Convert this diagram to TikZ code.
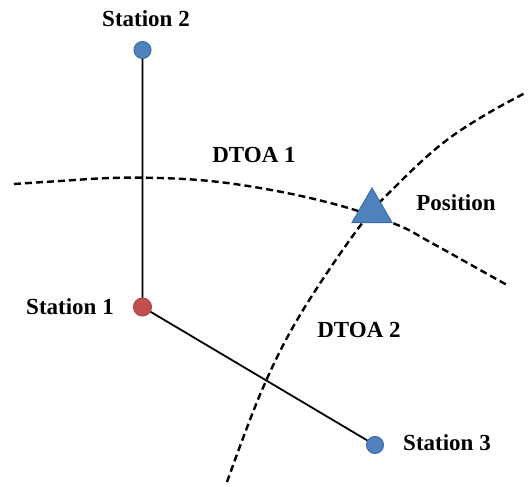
\documentclass[tikz,border=0pt]{standalone}
\usepackage{fontspec}
\setmainfont{Liberation Serif}
\usetikzlibrary{shapes.geometric}
\definecolor{stblue}{HTML}{4F81BD}
\definecolor{stblueb}{HTML}{3B6CA8}
\definecolor{stred}{HTML}{C0504D}
\definecolor{stredb}{HTML}{B04542}
\begin{document}
\begin{tikzpicture}[x=1pt,y=-1pt,
  lbl/.style={font=\fontsize{23}{27}\selectfont\bfseries, inner sep=0pt},
  bluestation/.style={circle, fill=stblue, draw=stblueb, line width=1pt, minimum size=17pt, inner sep=0pt},
  redstation/.style={circle, fill=stred, draw=stredb, line width=1pt, minimum size=18pt, inner sep=0pt},
  baseline/.style={line width=1.8pt, black},
  dtoa/.style={line width=2.4pt, dash pattern=on 7pt off 4pt, black}]
\useasboundingbox (0,0) rectangle (528,487);
% hyperbolas
\draw[dtoa] plot[smooth, tension=0.6] coordinates {(14,184) (60,181) (110,178) (160,178) (210,181) (260,188) (310,198) (355,210) (400,226) (430,242) (507,285)};
\draw[dtoa] plot[smooth, tension=0.6] coordinates {(227,482) (262,390) (300,315) (360,226) (400,182) (443,143) (485,115) (527,92)};
% stations
\node[bluestation] (s2) at (142.5,50) {};
\node[redstation] (s1) at (142.5,307) {};
\node[bluestation] (s3) at (375,445) {};
\draw[baseline] (s2) -- (s1) -- (s3);
\node[regular polygon, regular polygon sides=3, minimum size=46pt, inner sep=0pt, fill=stblue, draw=stblueb, line width=1pt] (pos) at (372,211) {};
% labels
\node[lbl] (l2) at (146,19) {Station 2};
\node[lbl] (l1) at (70,307) {Station 1};
\node[lbl] (l3) at (447,443) {Station 3};
\node[lbl] (lp) at (456,203) {Position};
\node[lbl] (d1) at (254,155) {DTOA 1};
\node[lbl] (d2) at (359,330) {DTOA 2};
\end{tikzpicture}
\end{document}
